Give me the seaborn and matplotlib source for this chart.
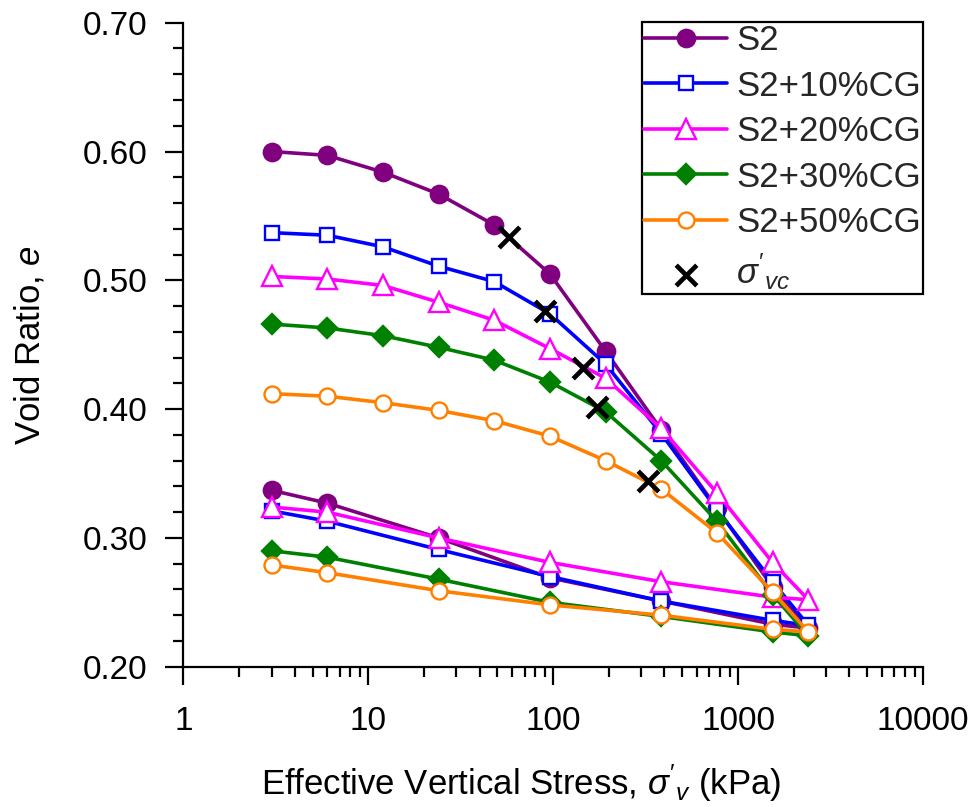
import matplotlib
matplotlib.use("Agg")
import matplotlib.pyplot as plt
import seaborn as sns
from matplotlib.ticker import LogLocator, NullFormatter, MultipleLocator, FixedLocator, FixedFormatter

# ---- data ----
stress = [3, 6, 12, 24, 48, 96, 192, 384, 768, 1536, 2400, 1536, 384, 96, 24, 6, 3]

e_s2 = [0.600, 0.597, 0.584, 0.567, 0.543, 0.505, 0.445, 0.384, 0.323, 0.262, 0.230,
        0.233, 0.251, 0.269, 0.300, 0.327, 0.337]
e_s2_10 = [0.537, 0.535, 0.526, 0.511, 0.499, 0.474, 0.435, 0.381, 0.322, 0.266, 0.232,
           0.236, 0.251, 0.270, 0.291, 0.313, 0.321]
e_s2_20 = [0.503, 0.501, 0.496, 0.483, 0.469, 0.447, 0.424, 0.385, 0.335, 0.281, 0.252,
           0.254, 0.266, 0.281, 0.300, 0.320, 0.324]
e_s2_30 = [0.466, 0.463, 0.457, 0.448, 0.438, 0.421, 0.398, 0.360, 0.313, 0.256, 0.224,
           0.227, 0.239, 0.250, 0.268, 0.285, 0.290]
e_s2_50 = [0.412, 0.410, 0.405, 0.399, 0.391, 0.379, 0.360, 0.338, 0.304, 0.258, 0.227,
           0.229, 0.240, 0.248, 0.259, 0.273, 0.279]

svc_x = [58, 90, 145, 172, 326]
svc_e = [0.534, 0.476, 0.432, 0.402, 0.344]

labels = ["S2", "S2+10%CG", "S2+20%CG", "S2+30%CG", "S2+50%CG"]
x_ticks = [1, 10, 100, 1000, 10000]
x_ticklabels = ["1", "10", "100", "1000", "10000"]
y_ticks = [0.20, 0.30, 0.40, 0.50, 0.60, 0.70]

# ---- style ----
sns.set_theme(style="ticks")
plt.rcParams["font.family"] = ["Liberation Sans", "DejaVu Sans"]
plt.rcParams["mathtext.fontset"] = "custom"
plt.rcParams["mathtext.rm"] = "Liberation Sans"
plt.rcParams["mathtext.it"] = "Liberation Sans:italic"
plt.rcParams["mathtext.bf"] = "Liberation Sans:bold"

fig = plt.figure(figsize=(9.75, 8.07), dpi=100)
ax = fig.add_axes([183.3 / 975, 1 - 666.7 / 807, (923 - 183.3) / 975, (666.7 - 22.7) / 807])

styles = [
    dict(color="#800080", marker="o", markersize=12.5, markerfacecolor="#800080", markeredgecolor="#800080"),
    dict(color="#0000FF", marker="s", markersize=10, markerfacecolor="white", markeredgecolor="#0000FF"),
    dict(color="#FF00FF", marker="^", markersize=14, markerfacecolor="white", markeredgecolor="#FF00FF"),
    dict(color="#008000", marker="D", markersize=10.5, markerfacecolor="#008000", markeredgecolor="#008000"),
    dict(color="#FF8000", marker="o", markersize=11.5, markerfacecolor="white", markeredgecolor="#FF8000"),
]
series = [e_s2, e_s2_10, e_s2_20, e_s2_30, e_s2_50]

for vals, lab, st in zip(series, labels, styles):
    sns.lineplot(x=stress, y=vals, sort=False, estimator=None, ax=ax, label=lab,
                 linewidth=2.6, markeredgewidth=1.7, **st)

sns.scatterplot(x=svc_x, y=svc_e, ax=ax, marker="x", color="black", s=220,
                linewidth=3.4, label=r"$\sigma'_{vc}$", zorder=5)

ax.set_xscale("log")
ax.set_xlim(1, 10000)
ax.set_ylim(0.20, 0.70)
ax.xaxis.set_major_locator(FixedLocator(x_ticks))
ax.xaxis.set_major_formatter(FixedFormatter(x_ticklabels))
ax.xaxis.set_minor_locator(LogLocator(base=10, subs=range(2, 10), numticks=20))
ax.xaxis.set_minor_formatter(NullFormatter())
ax.yaxis.set_major_locator(FixedLocator(y_ticks))
ax.set_yticklabels([f"{v:.2f}" for v in y_ticks])
ax.yaxis.set_minor_locator(MultipleLocator(0.02))

for side in ["top", "right"]:
    ax.spines[side].set_visible(False)
for side in ["left", "bottom"]:
    ax.spines[side].set_linewidth(1.6)
    ax.spines[side].set_color("black")

ax.tick_params(axis="both", which="major", direction="out", length=13, width=1.6,
               color="black", labelsize=24, labelcolor="black")
ax.tick_params(axis="both", which="minor", direction="out", length=7.5, width=1.6, color="black")
ax.tick_params(axis="x", which="major", pad=15)
ax.tick_params(axis="y", which="major", pad=13)

ax.set_xlabel(r"Effective Vertical Stress, $\sigma'_v$ (kPa)", fontsize=25, labelpad=21, color="black")
ax.xaxis.set_label_coords((521 - 183.3) / 739.7, -0.148)
ax.set_ylabel(r"Void Ratio, $e$", fontsize=25, labelpad=26, color="black")

leg = ax.legend(loc="upper right", bbox_to_anchor=(923 / 975, 1 - 22 / 807),
                bbox_transform=fig.transFigure, frameon=True, fancybox=False,
                edgecolor="black", framealpha=1, fontsize=25, handlelength=2.4,
                handletextpad=0.25, labelspacing=0.36, borderpad=0.06, borderaxespad=0)
leg.get_frame().set_linewidth(1.6)

fig.savefig("out.png", dpi=100)
